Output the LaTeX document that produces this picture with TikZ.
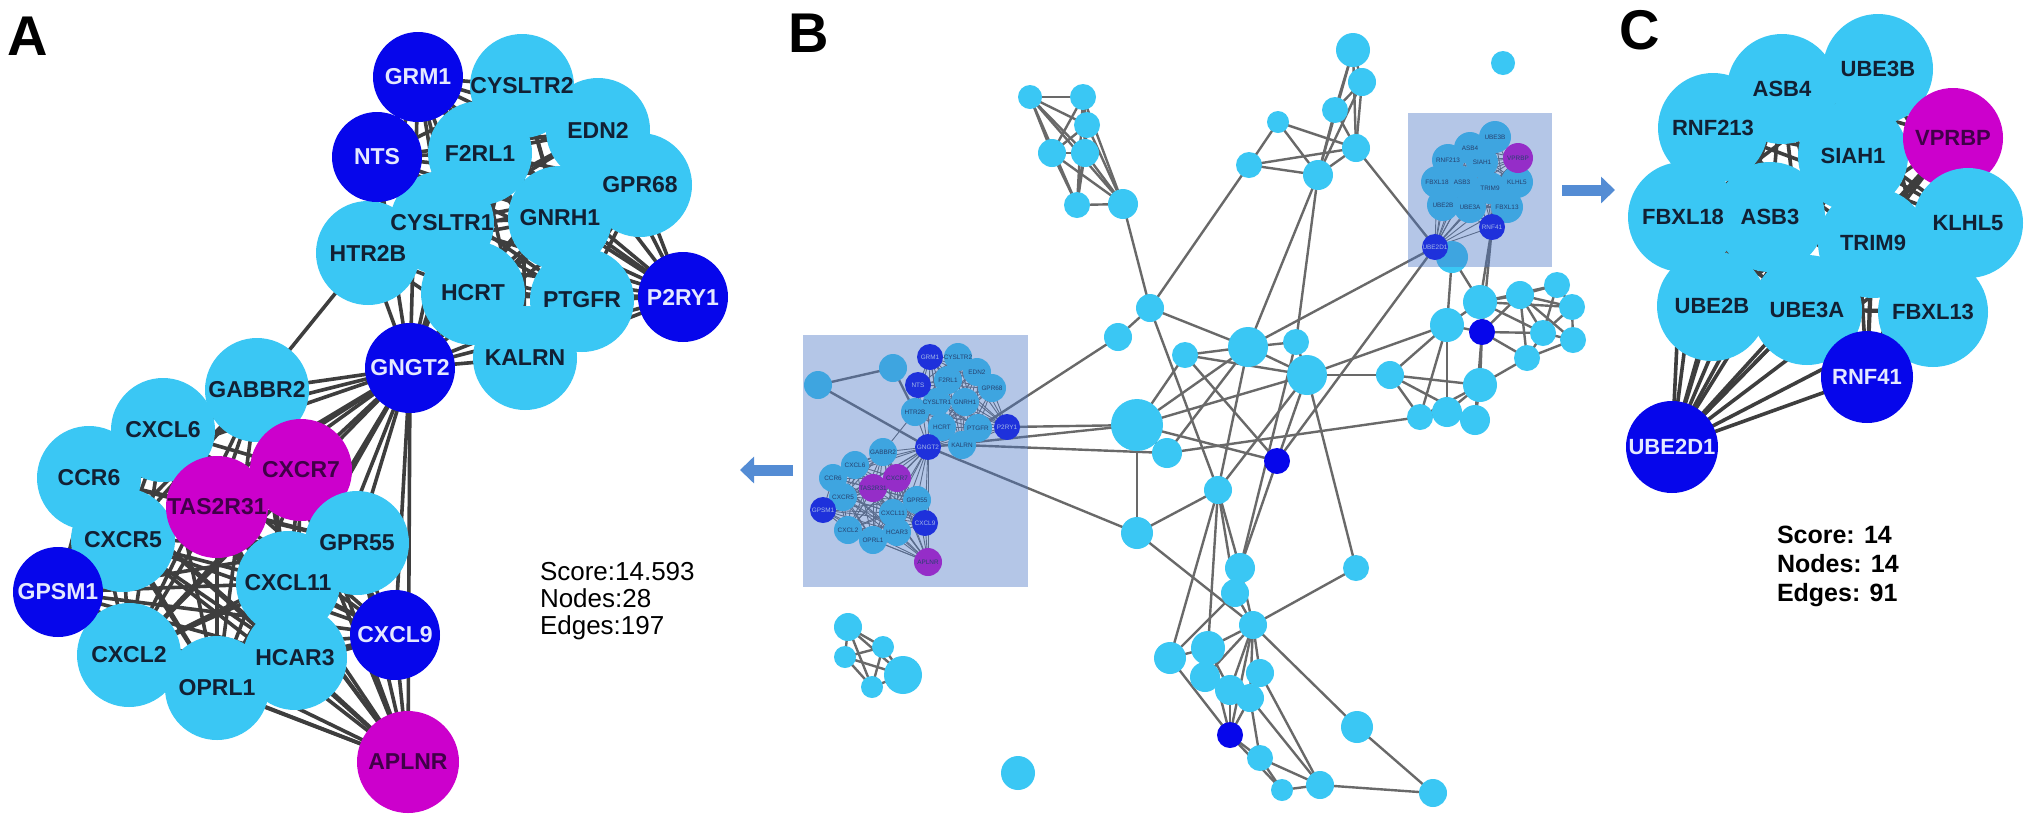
\documentclass[tikz,border=0pt]{standalone}
\usepackage{fontspec}
\setmainfont{Liberation Sans}
\usetikzlibrary{arrows.meta}
\pgfdeclarelayer{bg}
\pgfdeclarelayer{fg}
\pgfsetlayers{bg,main,fg}
\definecolor{lb}{RGB}{58,199,244}
\definecolor{db}{RGB}{6,6,235}
\definecolor{mg}{RGB}{204,0,204}
\definecolor{ltxt}{RGB}{18,32,52}
\definecolor{wtxt}{RGB}{228,232,255}
\definecolor{mtxt}{RGB}{64,0,72}
\definecolor{edgeA}{RGB}{62,62,62}
\definecolor{edgeB}{RGB}{105,105,105}
\definecolor{boxc}{RGB}{68,114,196}
\definecolor{arrc}{RGB}{84,140,212}
\newcommand{\mkclique}[2]{\foreach \cliqa [count=\cliqi] in {#2}{\foreach \cliqb [count=\cliqj] in {#2}{\ifnum\cliqj>\cliqi\relax\draw[#1] (\cliqa.center) -- (\cliqb.center);\fi}}}
\begin{document}
\begin{tikzpicture}[x=0.5pt,y=-0.5pt,
 every node/.style={inner sep=0pt,outer sep=0pt},
 cA/.style={circle,fill=lb,minimum size=52pt},
 cAd/.style={circle,fill=db,minimum size=45pt},
 cAm/.style={circle,fill=mg,minimum size=51pt},
 cC/.style={circle,fill=lb,minimum size=55pt},
 cCd/.style={circle,fill=db,minimum size=46pt},
 cCm/.style={circle,fill=mg,minimum size=50pt},
 tA/.style={font=\bfseries\fontsize{11.5}{12}\selectfont,text=ltxt},
 tC/.style={font=\bfseries\fontsize{11}{12}\selectfont,text=ltxt},
 bnode/.style={circle,fill=lb,minimum size=#1pt},
 bdark/.style={circle,fill=db,minimum size=#1pt},
 mini/.style={circle,fill=lb,minimum size=#1pt},
 minid/.style={circle,fill=db,minimum size=#1pt},
 minim/.style={circle,fill=mg,minimum size=#1pt},
 tm/.style={font=\fontsize{3.2}{3.5}\selectfont,text=ltxt},
 letter/.style={font=\bfseries\fontsize{28}{30}\selectfont,anchor=base west},
 stat/.style={font=\fontsize{13}{14}\selectfont,anchor=base west},
 statb/.style={font=\bfseries\fontsize{12.5}{14}\selectfont,anchor=base west},
 eA/.style={draw=edgeA,line width=1.8pt},
 eB/.style={draw=edgeB,line width=1.2pt},
 eM/.style={draw=edgeB,line width=0.45pt},
 bigarrow/.style={draw=arrc,line width=5.5pt,-{Triangle[length=7pt,width=13pt]}},
 hibox/.style={fill=boxc,fill opacity=0.4}]
\useasboundingbox (0,0) rectangle (2031,826);
\begin{pgfonlayer}{bg}
\fill[white] (0,0) rectangle (2031,826);
\end{pgfonlayer}

% ---------------- panel letters and stats
\node[letter] (LA) at (7,55) {A};
\node[letter] (LB) at (788,52) {B};
\node[letter] (LC) at (1619,49) {C};
\node[stat] (sA1) at (540,580) {Score:14.593};
\node[stat] (sA2) at (540,607) {Nodes:28};
\node[stat] (sA3) at (540,634) {Edges:197};
\node[statb] (sC1) at (1777,543) {Score: 14};
\node[statb] (sC2) at (1777,572) {Nodes: 14};
\node[statb] (sC3) at (1777,601) {Edges: 91};

% ---------------- panel A
\foreach \nm/\xx/\yy in {aEDN2/598/130,aGPR68/640/185,aGNRH1/560/218,aPTGFR/582/300,aKALRN/525/358,aHCRT/473/293,aHTR2B/368/253,aCYSLTR1/442/223,aF2RL1/480/153,aCYSLTR2/522/86,aGABBR2/257/390,aCXCL6/163/430,aCCR6/89/478,aCXCR5/123/540,aCXCL2/129/655,aOPRL1/217/688,aHCAR3/295/658}
  \node[cA] (\nm) at (\xx,\yy) {};
\foreach \nm/\xx/\yy in {aCXCR7/301/470,aTASR/217/507}
  \node[cAm] (\nm) at (\xx,\yy) {};
\foreach \nm/\xx/\yy in {aGPR55/357/543,aCXCL11/288/583}
  \node[cA] (\nm) at (\xx,\yy) {};
\node[cAm] (aAPLNR) at (408,762) {};
\foreach \nm/\xx/\yy in {aGRM1/418/77,aNTS/377/157,aP2RY1/683/297,aGNGT2/410/368,aGPSM1/58/592,aCXCL9/395/635}
  \node[cAd] (\nm) at (\xx,\yy) {};
\foreach \nm/\tx in {aEDN2/EDN2,aGPR68/GPR68,aGNRH1/GNRH1,aPTGFR/PTGFR,aKALRN/KALRN,aHCRT/HCRT,aHTR2B/HTR2B,aCYSLTR1/CYSLTR1,aF2RL1/F2RL1,aCYSLTR2/CYSLTR2,aGABBR2/GABBR2,aCXCL6/CXCL6,aCCR6/CCR6,aCXCR5/CXCR5,aCXCL2/CXCL2,aOPRL1/OPRL1,aHCAR3/HCAR3,aGPR55/GPR55,aCXCL11/CXCL11}
  \node[tA] (t\nm) at (\nm) {\tx};
\foreach \nm/\tx in {aCXCR7/CXCR7,aTASR/TAS2R31,aAPLNR/APLNR}
  \node[tA,text=mtxt] (t\nm) at (\nm) {\tx};
\foreach \nm/\tx in {aGRM1/GRM1,aNTS/NTS,aP2RY1/P2RY1,aGNGT2/GNGT2,aGPSM1/GPSM1,aCXCL9/CXCL9}
  \node[tA,text=wtxt] (t\nm) at (\nm) {\tx};

\begin{pgfonlayer}{bg}
\mkclique{eA}{aGRM1,aCYSLTR2,aNTS,aF2RL1,aEDN2,aGPR68,aGNRH1,aCYSLTR1,aHTR2B,aHCRT,aPTGFR,aP2RY1,aKALRN,aGNGT2}
\mkclique{eA}{aGABBR2,aCXCL6,aCCR6,aCXCR7,aTASR,aCXCR5,aGPR55,aGPSM1,aCXCL11,aCXCL9,aCXCL2,aHCAR3,aOPRL1,aAPLNR}
\foreach \nm in {aGABBR2,aCXCL6,aCCR6,aCXCR7,aTASR,aCXCR5,aGPR55,aGPSM1,aCXCL11,aCXCL9,aCXCL2,aHCAR3,aOPRL1,aAPLNR}
  \draw[eA] (aGNGT2.center) -- (\nm.center);
\draw[eA] (aHTR2B.center) -- (aGABBR2.center);
\end{pgfonlayer}

% ---------------- panel C
\foreach \nm/\xx/\yy in {cUBE3B/1878/69,cASB4/1782/89,cRNF213/1713/128,cSIAH1/1853/156,cFBXL18/1683/217,cASB3/1770/217,cTRIM9/1873/243,cUBE2B/1712/306,cUBE3A/1807/310,cFBXL13/1933/312}
  \node[cC] (\nm) at (\xx,\yy) {};
\node[cCm] (cVPRBP) at (1953,138) {};
\node[cC] (cKLHL5) at (1968,223) {};
\node[cCd] (cRNF41) at (1867,377) {};
\node[cCd] (cUBE2D1) at (1672,447) {};
\foreach \nm/\tx in {cUBE3B/UBE3B,cASB4/ASB4,cRNF213/RNF213,cSIAH1/SIAH1,cFBXL18/FBXL18,cASB3/ASB3,cTRIM9/TRIM9,cUBE2B/UBE2B,cUBE3A/UBE3A,cFBXL13/FBXL13,cKLHL5/KLHL5}
  \node[tC] (t\nm) at (\nm) {\tx};
\node[tC,text=mtxt] (tcVPRBP) at (cVPRBP) {VPRBP};
\node[tC,text=wtxt] (tcRNF41) at (cRNF41) {RNF41};
\node[tC,text=wtxt] (tcUBE2D1) at (cUBE2D1) {UBE2D1};
\begin{pgfonlayer}{bg}
\mkclique{eA}{cUBE3B,cASB4,cRNF213,cSIAH1,cFBXL18,cASB3,cTRIM9,cUBE2B,cUBE3A,cFBXL13,cVPRBP,cKLHL5,cRNF41,cUBE2D1}
\end{pgfonlayer}

% ---------------- panel B : plain nodes
\foreach \nm/\xx/\yy/\rr in {ba1/1030/97/12,ba2/1083/97/13,ba3/1087/125/13,ba4/1052/153/14,ba5/1085/153/14,ba6/1077/205/13,ba7/1123/204/15,
 bb1/1150/308/14,
 bc1/1353/50/17,bc2/1362/82/14,bc3/1335/110/13,bc4/1278/122/11,bc5/1356/148/14,bc6/1249/165/13,bc7/1318/175/15,bc8/1503/63/12,
 bd2/1118/337/14,bd3/1185/355/13,bd4/1248/347/20,bd5/1296/342/13,bd6/1307/375/20,bd7/1137/425/26,bd8/1167/453/15,bd10/1218/490/14,bd11/1137/533/16,bd12/1240/568/15,bd13/1235/593/14,bd14/1356/568/13,bd15/1390/375/14,
 bk1/1480/302/17,bk2/1447/325/17,bk4/1520/295/14,bk5/1557/285/13,bk6/1572/307/13,bk7/1543/333/13,bk8/1573/340/13,bk9/1527/358/13,bk10/1480/385/17,bk11/1447/412/15,bk12/1420/417/13,bk13/1475/420/15,
 be1/1253/625/14,be2/1208/648/17,be3/1170/658/16,be4/1260/673/14,be5/1205/677/15,be6/1230/690/15,be7/1250/698/14,be9/1260/758/13,be10/1282/790/11,be11/1320/785/14,be12/1357/727/16,be13/1433/793/14,
 bf1/848/627/14,bf2/883/647/11,bf3/845/657/11,bf4/903/675/19,bf5/872/687/11,bf6/1018/773/17}
  \node[bnode=\rr] (\nm) at (\xx,\yy) {};
\foreach \nm/\xx/\yy/\rr in {bd9/1277/461/13,bk3/1482/332/13,be8/1230/735/13}
  \node[bdark=\rr] (\nm) at (\xx,\yy) {};

% mini copy of A inside left box
\foreach \nm/\xx/\yy in {mCYSLTR2/958/357,mF2RL1/948/380,mEDN2/977/372,mGPR68/992/388,mGNRH1/965/402,mCYSLTR1/937/402,mHTR2B/915/412,mHCRT/942/427,mPTGFR/978/428,mKALRN/962/445,mGABBR2/883/452,mCXCL6/855/465,mCCR6/833/478,mCXCR5/843/497,mGPR55/917/500,mCXCL11/893/513,mCXCL2/848/530,mHCAR3/897/532,mOPRL1/873/540,mxa/818/385,mxb/893/368}
  \node[mini=14] (\nm) at (\xx,\yy) {};
\foreach \nm/\xx/\yy in {mCXCR7/897/478,mTASR/873/488,mAPLNR/928/562}
  \node[minim=14] (\nm) at (\xx,\yy) {};
\foreach \nm/\xx/\yy in {mGRM1/930/357,mNTS/918/385,mP2RY1/1007/427,mGNGT2/928/447,mGPSM1/823/510,mCXCL9/925/523}
  \node[minid=13] (\nm) at (\xx,\yy) {};
\foreach \nm/\tx in {mCYSLTR2/CYSLTR2,mF2RL1/F2RL1,mEDN2/EDN2,mGPR68/GPR68,mGNRH1/GNRH1,mCYSLTR1/CYSLTR1,mHTR2B/HTR2B,mHCRT/HCRT,mPTGFR/PTGFR,mKALRN/KALRN,mGABBR2/GABBR2,mCXCL6/CXCL6,mCCR6/CCR6,mCXCR5/CXCR5,mGPR55/GPR55,mCXCL11/CXCL11,mCXCL2/CXCL2,mHCAR3/HCAR3,mOPRL1/OPRL1,mCXCR7/CXCR7,mTASR/TAS2R31,mAPLNR/APLNR}
  \node[tm] (t\nm) at (\nm) {\tx};
\foreach \nm/\tx in {mGRM1/GRM1,mNTS/NTS,mP2RY1/P2RY1,mGNGT2/GNGT2,mGPSM1/GPSM1,mCXCL9/CXCL9}
  \node[tm,text=wtxt] (t\nm) at (\nm) {\tx};

% mini copy of C inside right box
\foreach \nm/\xx/\yy in {qUBE3B/1495/137,qASB4/1470/148,qRNF213/1448/160,qSIAH1/1482/162,qFBXL18/1437/182,qASB3/1462/182,qTRIM9/1490/188,qKLHL5/1517/182,qUBE2B/1443/205,qUBE3A/1470/207,qFBXL13/1507/207,qX/1452/257}
  \node[mini=16] (\nm) at (\xx,\yy) {};
\node[minim=15] (qVPRBP) at (1518,158) {};
\node[minid=13] (qRNF41) at (1492,227) {};
\node[minid=13] (qUBE2D1) at (1435,247) {};
\foreach \nm/\tx in {qUBE3B/UBE3B,qASB4/ASB4,qRNF213/RNF213,qSIAH1/SIAH1,qFBXL18/FBXL18,qASB3/ASB3,qTRIM9/TRIM9,qKLHL5/KLHL5,qUBE2B/UBE2B,qUBE3A/UBE3A,qFBXL13/FBXL13,qVPRBP/VPRBP}
  \node[tm] (t\nm) at (\nm) {\tx};
\node[tm,text=wtxt] (tqRNF41) at (qRNF41) {RNF41};
\node[tm,text=wtxt] (tqUBE2D1) at (qUBE2D1) {UBE2D1};

\begin{pgfonlayer}{bg}
\mkclique{eB}{ba1,ba2,ba3,ba4,ba5,ba6,ba7}
\mkclique{eB}{bf1,bf2,bf3,bf4,bf5}
\foreach \pa/\pb in {ba7/bb1,bb1/bd2,bb1/bd4,bb1/bd10,bb1/bc6,
 bc1/bc2,bc1/bc3,bc1/bc5,bc1/bc7,bc2/bc3,bc2/bc5,bc2/bc7,bc3/bc5,bc3/bc7,bc4/bc5,bc4/bc6,bc4/bc7,bc5/bc6,bc5/bc7,bc6/bc7,
 bc7/bd4,bc7/bd5,bc5/qUBE2D1,
 bd2/mPTGFR,bd7/mP2RY1,bd7/mGNGT2,bd8/mKALRN,bd11/mGNGT2,
 bd3/bd4,bd3/bd6,bd3/bd9,bd3/bd7,bd4/bd7,bd4/bd5,bd4/bd6,bd4/bd8,bd4/bd10,bd5/bd6,bd5/bd12,
 bd6/bd7,bd6/bd14,bd6/bd15,bd6/bd10,bd6/bd9,bd6/bk2,bd7/bd11,bd7/bd9,bd7/bd8,bd8/bk12,
 bd9/bd12,bd10/bd11,bd10/bd12,bd10/bd13,bd10/be2,bd10/be3,bd11/be1,bd12/bd13,bd12/be1,bd13/be1,bd13/be3,bd14/be1,
 be1/be2,be1/be4,be1/be5,be1/be6,be1/be7,be1/be8,be1/be12,be2/be3,be2/be5,be2/be8,be2/be6,be3/be8,be4/be7,be4/be11,be6/be8,be7/be8,be7/be9,be7/be11,be8/be9,be8/be10,be9/be10,be9/be11,be10/be11,be11/be13,be12/be13,
 qUBE2D1/bd4,qUBE2D1/bd9,qX/bk2,qX/bk1,qRNF41/bk1,qRNF41/bk3,
 bk1/bk2,bk1/bk3,bk1/bk4,bk1/bk5,bk1/bk6,bk1/bk7,bk2/bk3,bk3/bk4,bk3/bk7,bk3/bk9,bk3/bk10,bk3/bk13,bk4/bk5,bk4/bk6,bk4/bk7,bk4/bk8,bk5/bk6,bk5/bk7,bk6/bk7,bk6/bk8,bk7/bk8,bk7/bk9,bk9/bk10,bk4/bk9,bk8/bk9,
 bk2/bk11,bk2/bk12,bk10/bk11,bk10/bk12,bk10/bk13,bk11/bk12,bk11/bk13,bk12/bd15,bd15/bk13,bd15/bk10,bk2/bd15,
 mxa/mxb,mxa/mGNGT2,mxb/mHTR2B}
  \draw[eB] (\pa.center) -- (\pb.center);
\mkclique{eM}{mGRM1,mCYSLTR2,mNTS,mF2RL1,mEDN2,mGPR68,mGNRH1,mCYSLTR1,mHTR2B,mHCRT,mPTGFR,mP2RY1,mKALRN,mGNGT2}
\mkclique{eM}{mGABBR2,mCXCL6,mCCR6,mCXCR7,mTASR,mCXCR5,mGPR55,mGPSM1,mCXCL11,mCXCL9,mCXCL2,mHCAR3,mOPRL1,mAPLNR}
\foreach \nm in {mGABBR2,mCXCL6,mCCR6,mCXCR7,mTASR,mCXCR5,mGPR55,mGPSM1,mCXCL11,mCXCL9,mCXCL2,mHCAR3,mOPRL1,mAPLNR}
  \draw[eM] (mGNGT2.center) -- (\nm.center);
\draw[eM] (mHTR2B.center) -- (mGABBR2.center);
\mkclique{eM}{qUBE3B,qASB4,qRNF213,qSIAH1,qFBXL18,qASB3,qTRIM9,qUBE2B,qUBE3A,qFBXL13,qVPRBP,qKLHL5,qRNF41,qUBE2D1}
\end{pgfonlayer}

% highlight boxes
\begin{pgfonlayer}{fg}
\fill[hibox] (803,335) rectangle (1028,587);
\fill[hibox] (1408,113) rectangle (1552,267);
\end{pgfonlayer}

% arrows
\coordinate (la1) at (793,470);
\coordinate (la2) at (740,470);
\coordinate (ra1) at (1562,190);
\coordinate (ra2) at (1615,190);
\draw[bigarrow] (la1) -- (la2);
\draw[bigarrow] (ra1) -- (ra2);
\end{tikzpicture}
\end{document}
